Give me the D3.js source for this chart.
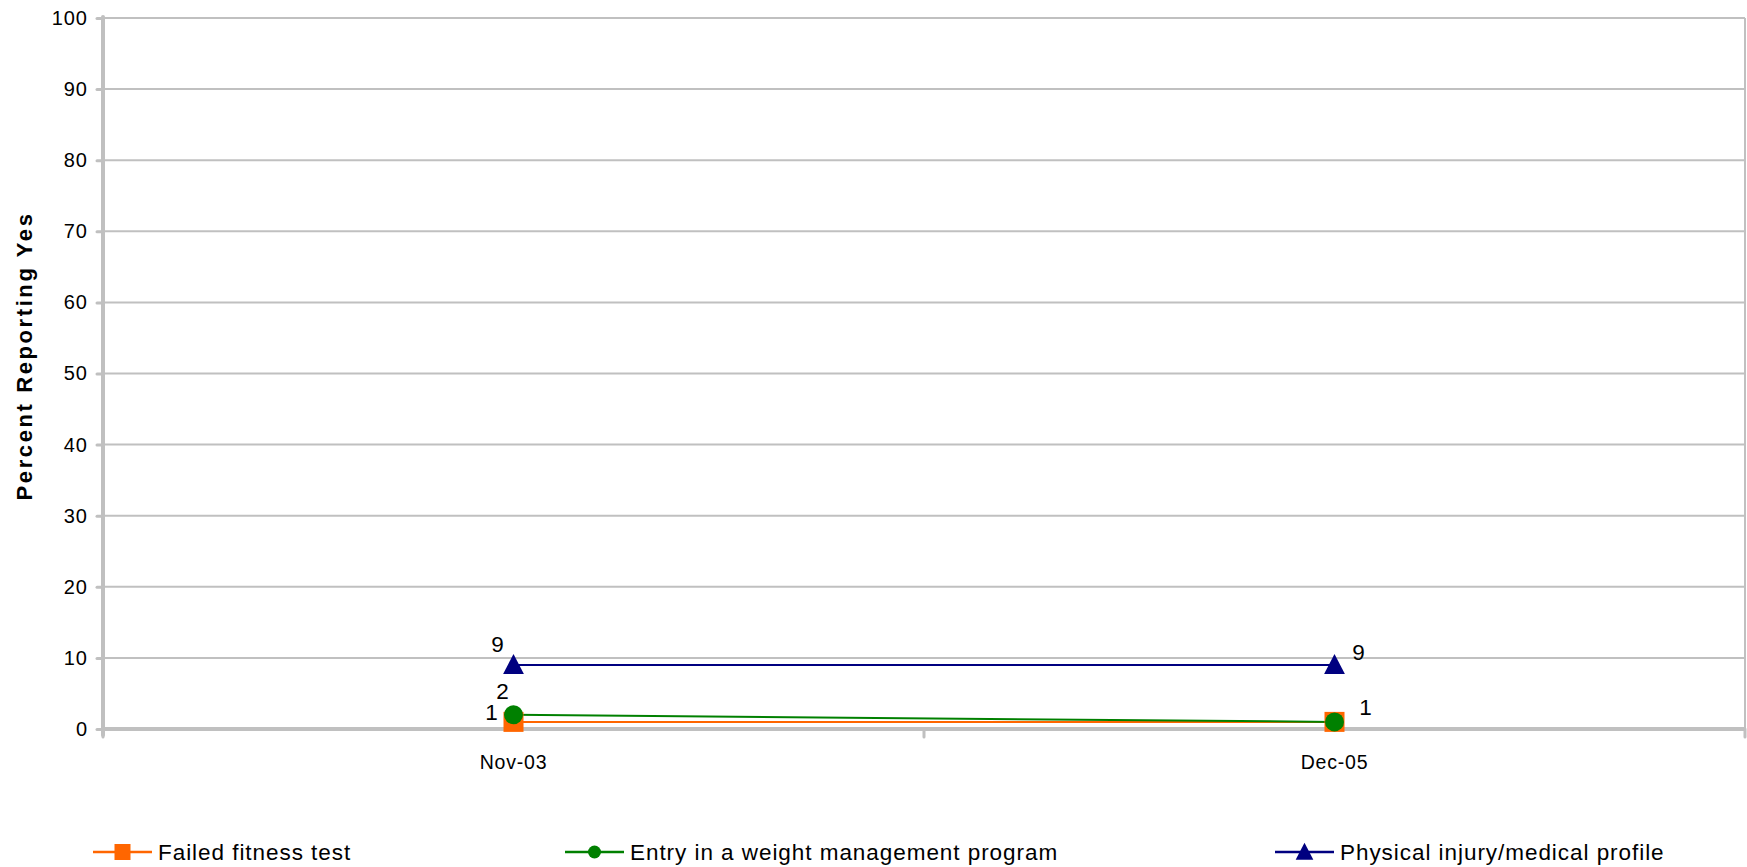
<!DOCTYPE html>
<html><head><meta charset="utf-8">
<script src="https://cdn.jsdelivr.net/npm/d3@7"></script>
<style>body{margin:0;background:#fff;} svg{display:block;font-family:"Liberation Sans",Arial,sans-serif;}</style>
</head><body>
<svg id="c" width="1747" height="867"></svg>
<script>
const categories = ["Nov-03", "Dec-05"];
const failedFitness = [1, 1];
const weightProgram = [2, 1];
const physicalInjury = [9, 9];
const yTicks = [0, 10, 20, 30, 40, 50, 60, 70, 80, 90, 100];
const seriesNames = ["Failed fitness test", "Entry in a weight management program", "Physical injury/medical profile"];

const series = [
  {name: seriesNames[0], values: failedFitness, color: "#FF6600", shape: "square"},
  {name: seriesNames[1], values: weightProgram, color: "#008000", shape: "circle"},
  {name: seriesNames[2], values: physicalInjury, color: "#000080", shape: "triangle"}
];

const svg = d3.select("#c");
const L = 103, R = 1745, T = 18, B = 729;
const x = d3.scaleBand().domain(categories).range([L, R]);
const y = d3.scaleLinear().domain([0, 100]).range([B, T]);
const grid = "#C0C0C0";

// gridlines
svg.append("g").selectAll("line").data(yTicks.filter(d => d > 0)).join("line")
  .attr("x1", L).attr("x2", R).attr("y1", d => y(d)).attr("y2", d => y(d))
  .attr("stroke", grid).attr("stroke-width", 2);
// right border
svg.append("line").attr("x1", R).attr("x2", R).attr("y1", T).attr("y2", B)
  .attr("stroke", grid).attr("stroke-width", 2);

// y axis
const yAxis = svg.append("g").attr("transform", `translate(${L},0)`)
  .call(d3.axisLeft(y).tickValues(yTicks).tickSize(6).tickPadding(9));
yAxis.select(".domain").remove();
yAxis.selectAll(".tick line").attr("stroke", grid).attr("stroke-width", 3).attr("stroke-linecap", "round");
yAxis.selectAll("text").attr("font-size", 20).attr("letter-spacing", 1).attr("fill", "#000")
  .attr("font-family", "Liberation Sans, Arial, sans-serif");
svg.append("line").attr("x1", L).attr("x2", L).attr("y1", T - 1).attr("y2", B + 6)
  .attr("stroke", grid).attr("stroke-width", 4).attr("stroke-linecap", "round");

// x axis
svg.append("line").attr("x1", L).attr("x2", R).attr("y1", B).attr("y2", B)
  .attr("stroke", grid).attr("stroke-width", 4);
const bounds = [L].concat(categories.map(c => x(c) + x.bandwidth()));
svg.append("g").selectAll("line").data(bounds).join("line")
  .attr("x1", d => d).attr("x2", d => d).attr("y1", B).attr("y2", B + 8)
  .attr("stroke", grid).attr("stroke-width", 3).attr("stroke-linecap", "round");
svg.append("g").selectAll("text").data(categories).join("text")
  .attr("x", d => x(d) + x.bandwidth() / 2).attr("y", 769)
  .attr("text-anchor", "middle").attr("font-size", 19.5).attr("letter-spacing", 0.8)
  .text(d => d);

// y title
svg.append("text").attr("transform", "translate(32,356) rotate(-90)")
  .attr("text-anchor", "middle").attr("font-size", 22).attr("font-weight", "bold")
  .attr("letter-spacing", 2.6).text("Percent Reporting Yes");

const cx = c => x(c) + x.bandwidth() / 2;
const line = d3.line().x((d, i) => cx(categories[i])).y(d => y(d));

function marker(g, shape, color, size) {
  if (shape === "square") {
    g.append("rect").attr("x", -size / 2).attr("y", -size / 2).attr("width", size).attr("height", size).attr("fill", color);
  } else if (shape === "circle") {
    g.append("circle").attr("r", size / 2).attr("fill", color);
  } else {
    const h = size;
    g.append("path").attr("d", `M0,${-h * 0.55}L${h * 0.52},${h * 0.45}L${-h * 0.52},${h * 0.45}Z`).attr("fill", color);
  }
}

// lines
series.forEach(s => {
  svg.append("path").datum(s.values).attr("d", line).attr("fill", "none")
    .attr("stroke", s.color).attr("stroke-width", 2);
});
// markers
series.forEach(s => {
  s.values.forEach((v, i) => {
    const g = svg.append("g").attr("transform", `translate(${cx(categories[i])},${y(v)})`);
    marker(g, s.shape, s.color, s.shape === "circle" ? 19 : 20);
  });
});

// data labels: [seriesIndex, categoryIndex, dx, dy]
const labels = [[2, 0, -16, -13], [1, 0, -11, -16], [0, 0, -22, -2], [2, 1, 24, -5], [0, 1, 31, -7]];
svg.append("g").selectAll("text").data(labels).join("text")
  .attr("x", d => cx(categories[d[1]]) + d[2])
  .attr("y", d => y(series[d[0]].values[d[1]]) + d[3])
  .attr("text-anchor", "middle").attr("font-size", 22.5)
  .text(d => series[d[0]].values[d[1]]);

// legend
const legendX = [93, 565, 1275];
series.forEach((s, i) => {
  const g = svg.append("g").attr("transform", `translate(${legendX[i]},852)`);
  g.append("line").attr("x1", 0).attr("x2", 59).attr("stroke", s.color).attr("stroke-width", 2.5);
  const m = g.append("g").attr("transform", "translate(29.5,0)");
  marker(m, s.shape, s.color, s.shape === "circle" ? 13 : (s.shape === "square" ? 16 : 17));
  g.append("text").attr("x", 65).attr("y", 7.5).attr("font-size", 22.5).attr("letter-spacing", 0.95).text(s.name);
});
</script>
</body></html>
